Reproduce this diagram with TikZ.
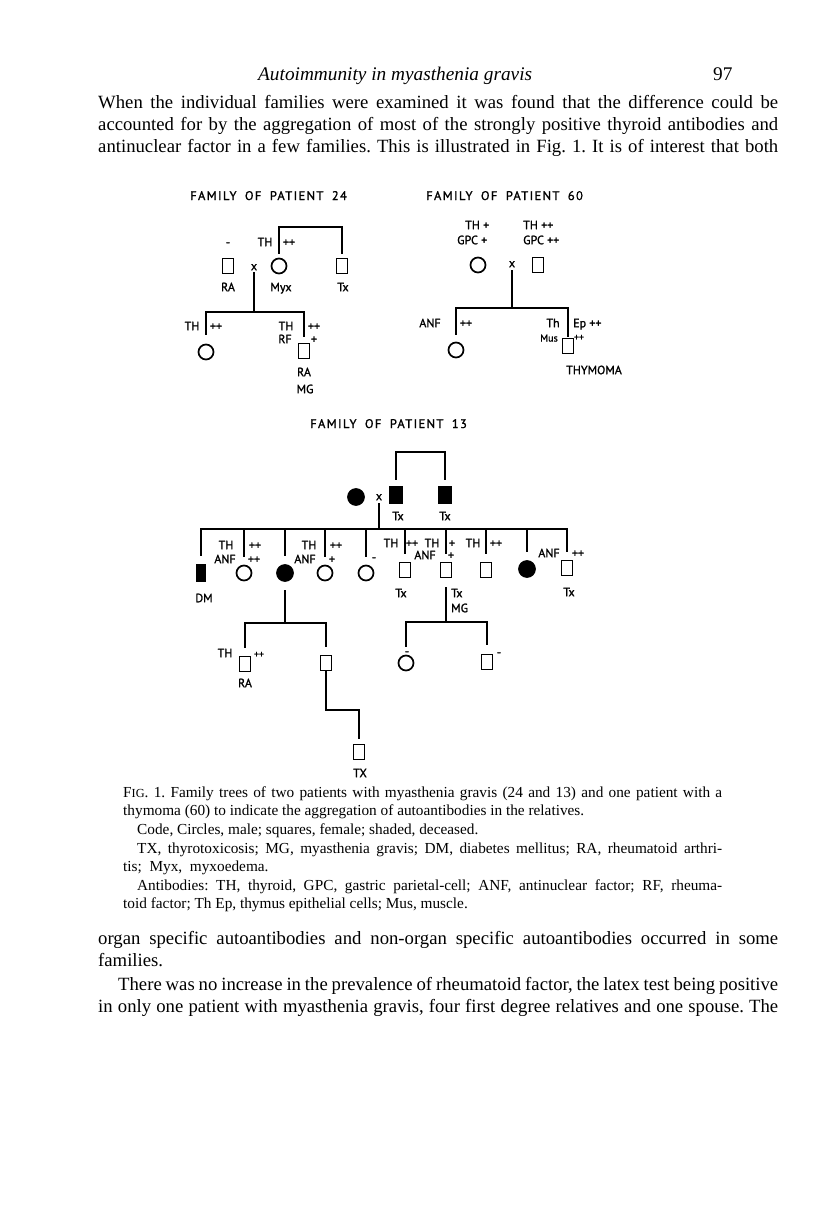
\documentclass[tikz,border=0pt]{standalone}
\usepackage{fontspec}
\setmainfont{Liberation Serif}
\newfontfamily\lblf[FakeBold=1.3]{PT Sans}
\newfontfamily\ttlf[LetterSpace=11,WordSpace=1.8,FakeBold=1.3]{PT Sans}
\newcommand{\jl}[2]{\makebox[#1][s]{#2}}
\frenchspacing
\begin{document}
\begin{tikzpicture}[x=1pt,y=-1pt,
  ped/.style={line width=1.8pt, line cap=rect, line join=miter},
  sq/.style={draw, line width=1.6pt, rectangle, minimum width=11pt, minimum height=15pt, inner sep=0pt},
  sqf/.style={sq, fill=black, minimum width=12pt, minimum height=16pt},
  ci/.style={draw, line width=1.7pt, circle, minimum size=15pt, inner sep=0pt},
  cif/.style={ci, fill=black, minimum size=16pt},
  lb/.style={font=\lblf\fontsize{12}{12}\selectfont, inner sep=0pt, text height=8.4pt, text depth=0pt},
  lbs/.style={font=\lblf\fontsize{10}{10}\selectfont, inner sep=0pt, text height=7pt, text depth=0pt},
  ttl/.style={font=\ttlf\fontsize{12.5}{12.5}\selectfont, anchor=base west, inner sep=0pt},
  txt/.style={anchor=base west, inner sep=0pt, font=\fontsize{18.7}{22}\selectfont},
  hdr/.style={anchor=base west, inner sep=0pt, font=\fontsize{19.3}{22}\selectfont},
  captxt/.style={anchor=base west, inner sep=0pt, font=\fontsize{15.3}{18}\selectfont}]
\fill[white] (0,0) rectangle (816,1212);
\useasboundingbox (0,0) rectangle (816,1212);

% ---------- running text ----------
\node[hdr] (h1) at (258,81) {\itshape Autoimmunity in myasthenia gravis};
\node[hdr] (h2) at (713,81) {97};
\node[txt] (t1) at (98,109) {\jl{680pt}{When the individual families were examined it was found that the difference could be}};
\node[txt] (t2) at (98,131) {\jl{680pt}{accounted for by the aggregation of most of the strongly positive thyroid antibodies and}};
\node[txt] (t3) at (98,153) {\jl{680pt}{antinuclear factor in a few families. This is illustrated in Fig. 1. It is of interest that both}};

% ---------- Family 24 ----------
\node[ttl] (T24) at (190,200) {FAMILY OF PATIENT 24};
\node[sq] (a24) at (228,266) {};
\node[ci] (b24) at (279,266) {};
\node[sq] (c24) at (342,266) {};
\node[lb] (x24) at (254,266) {x};
\draw[ped, shorten <=5pt, shorten >=5pt] (b24.north) -- ++(0,-31) -| (c24.north);
\coordinate (s24) at (254,312);
\draw[ped, shorten <=2pt] (x24.south) -- (s24);
\node[ci] (d24) at (206,352) {};
\node[sq] (e24) at (304,351) {};
\draw[ped, shorten <=10pt, shorten >=7pt] (d24.north) |- (s24) -| (e24.north);
\node[lb] (l241) at (228,242) {-};
\node[lb] (l242) at (265,242) {TH};
\node[lb] (l243) at (289,242) {++};
\node[lb] (l244) at (228,287) {RA};
\node[lb] (l245) at (281,287) {Myx};
\node[lb] (l246) at (343,287) {Tx};
\node[lb] (l247) at (192,326) {TH};
\node[lb] (l248) at (216,326) {++};
\node[lb] (l249) at (286,326) {TH};
\node[lb] (l2410) at (314,326) {++};
\node[lb] (l2411) at (285,339) {RF};
\node[lb] (l2412) at (314,339) {+};
\node[lb] (l2413) at (304,372) {RA};
\node[lb] (l2414) at (305,389) {MG};

% ---------- Family 60 ----------
\node[ttl] (T60) at (426,200) {FAMILY OF PATIENT 60};
\node[ci] (f60) at (478,265) {};
\node[lb] (x60) at (512,263) {x};
\node[sq] (g60) at (538,265) {};
\coordinate (s60) at (512,308);
\draw[ped, shorten <=3pt] (x60.south) -- (s60);
\node[ci] (h60) at (456,350) {};
\node[sq] (i60) at (568,346) {};
\draw[ped, shorten <=8pt, shorten >=1.5pt] (h60.north) |- (s60) -| (i60.north);
\node[lb, anchor=west] (l601) at (465,225) {TH +};
\node[lb, anchor=west] (l602) at (457,240) {GPC +};
\node[lb, anchor=west] (l603) at (523,225) {TH ++};
\node[lb, anchor=west] (l604) at (523,240) {GPC ++};
\node[lb] (l605) at (430,323) {ANF};
\node[lb] (l606) at (466,323) {++};
\node[lb] (l607) at (553,323) {Th};
\node[lb, anchor=west] (l608) at (573,323) {Ep ++};
\node[lbs] (l609) at (549,338) {Mus};
\node[lbs] (l6010) at (579,337) {++};
\node[lb] (l6011) at (594,370) {THYMOMA};

% ---------- Family 13 ----------
\node[ttl] (T13) at (310,428) {FAMILY OF PATIENT 13};
\node[cif] (j13) at (356,497) {};
\node[lb] (x13) at (379,496) {x};
\node[sqf] (k13) at (396,495) {};
\node[sqf] (l13) at (445,495) {};
\draw[ped, shorten <=7pt, shorten >=7pt] (k13.north) -- ++(0,-34) -| (l13.north);
\node[lb] (l131) at (398,516) {Tx};
\node[lb] (l132) at (445,516) {Tx};
\coordinate (s13) at (379,529);
\draw[ped, shorten <=3pt] (x13.south) -- (s13);

\node[sqf, minimum width=9pt] (c1) at (201,573) {};
\node[ci] (c2) at (244,573) {};
\node[cif] (c3) at (285,573) {};
\node[ci] (c4) at (325,573) {};
\node[ci] (c5) at (366,573) {};
\node[sq] (c6) at (405,570) {};
\node[sq] (c7) at (446,570) {};
\node[sq] (c8) at (486,570) {};
\node[cif] (c9) at (527,569) {};
\node[sq] (c10) at (567,568) {};
\draw[ped] (c1.north |- s13) -- (c10.north |- s13);
\foreach \c in {c1,c2,c3,c4,c5,c6,c7,c8,c9,c10}
  \draw[ped, shorten <=9pt] (\c.north) -- (\c.north |- s13);

\node[lb] (m1) at (226,545) {TH};
\node[lb] (m2) at (255,545) {++};
\node[lb] (m3) at (225,559) {ANF};
\node[lb] (m4) at (254,559) {++};
\node[lb] (m5) at (204,598) {DM};
\node[lb] (m6) at (309,545) {TH};
\node[lb] (m7) at (336,545) {++};
\node[lb] (m8) at (305,559) {ANF};
\node[lb] (m9) at (332,559) {+};
\node[lb] (m10) at (374,557) {-};
\node[lb] (m11) at (391,543) {TH};
\node[lb] (m12) at (412,543) {++};
\node[lb] (m13) at (432,543) {TH};
\node[lb] (m14) at (425,555) {ANF};
\node[lb] (m15) at (401,593) {Tx};
\node[lb] (m16) at (452,543) {+};
\node[lb] (m17) at (451,555) {+};
\node[lb] (m18) at (473,543) {TH};
\node[lb] (m19) at (496,543) {++};
\node[lb, anchor=west] (m20) at (451,593) {Tx};
\node[lb, anchor=west] (m21) at (451,608) {MG};
\node[lb] (m22) at (549,553) {ANF};
\node[lb] (m23) at (578,553) {++};
\node[lb] (m24) at (569,592) {Tx};

% descendants of c3
\coordinate (s3) at (285,623);
\draw[ped, shorten <=9pt] (c3.south) -- (s3);
\node[sq] (n1) at (245,664) {};
\node[sq] (n2) at (326,663) {};
\draw[ped, shorten <=9pt, shorten >=9pt] (n1.north) |- (s3) -| (n2.north);
\node[sq] (n3) at (359,752) {};
\draw[ped, shorten >=6pt] (n2.south) -- ++(0,39) -| (n3.north);
\node[lb] (p1) at (225,653) {TH};
\node[lbs] (p2) at (259,654) {++};
\node[lb] (p3) at (245,683) {RA};
\node[lb] (p4) at (360,773) {TX};

% descendants of c7
\coordinate (s7) at (446,622);
\draw[ped, shorten <=10pt] (c7.south) -- (s7);
\node[ci] (q1) at (406,663) {};
\node[sq] (q2) at (487,662) {};
\draw[ped, shorten <=9pt, shorten >=10pt] (q1.north) |- (s7) -| (q2.north);
\node[lb] (q3) at (407,651) {-};
\node[lb] (q4) at (499,652) {-};

% ---------- caption ----------
\node[captxt] (f1) at (123,797) {\jl{599pt}{F{\fontsize{12.3}{12.3}\selectfont IG}. 1. Family trees of two patients with myasthenia gravis (24 and 13) and one patient with a}};
\node[captxt] (f2) at (123,815) {thymoma (60) to indicate the aggregation of autoantibodies in the relatives.};
\node[captxt] (f3) at (137,834) {Code, Circles, male; squares, female; shaded, deceased.};
\node[captxt] (f4) at (137,853) {\jl{585pt}{TX, thyrotoxicosis; MG, myasthenia gravis; DM, diabetes mellitus; RA, rheumatoid arthri-}};
\node[captxt] (f5) at (123,871) {tis;\ \ Myx,\ \ myxoedema.};
\node[captxt] (f6) at (137,890) {\jl{585pt}{Antibodies: TH, thyroid, GPC, gastric parietal-cell; ANF, antinuclear factor; RF, rheuma-}};
\node[captxt] (f7) at (123,908) {toid factor; Th Ep, thymus epithelial cells; Mus, muscle.};

% ---------- running text, bottom ----------
\node[txt] (b1) at (98,944) {\jl{680pt}{organ specific autoantibodies and non-organ specific autoantibodies occurred in some}};
\node[txt] (b2) at (98,966) {families.};
\node[txt] (b3) at (118,990) {\jl{660pt}{There was no increase in the prevalence of rheumatoid factor, the latex test being positive}};
\node[txt] (b4) at (98,1012) {\jl{680pt}{in only one patient with myasthenia gravis, four first degree relatives and one spouse. The}};
\end{tikzpicture}
\end{document}
